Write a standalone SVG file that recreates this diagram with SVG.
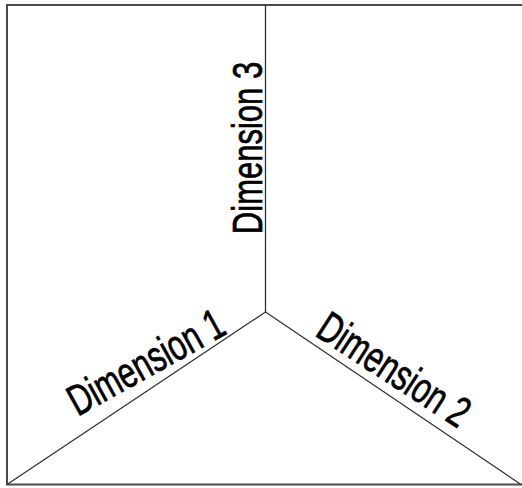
<svg xmlns="http://www.w3.org/2000/svg" width="522" height="488" viewBox="0 0 522 488">
  <style>
    .frame { fill: none; stroke: #4a4a4a; stroke-width: 2; }
    .axis { fill: none; stroke: #333; stroke-width: 1.3; }
    .label { font-family: "Liberation Sans", Arial, sans-serif; font-size: 31px; fill: #000; stroke: #000; stroke-width: 0.5; text-anchor: middle; }
  </style>
  <rect width="522" height="488" fill="#fff"/>
  <path class="frame" d="M523,5 H7 V484.5 H523"/>
  <g id="axes">
    <line class="axis" x1="265.5" y1="5" x2="265.5" y2="312"/>
    <line class="axis" x1="265.5" y1="312" x2="7" y2="484.5"/>
    <line class="axis" x1="265.5" y1="312" x2="521" y2="484.5"/>
  </g>
  <g id="dimension-1">
    <text class="label" transform="translate(153,375) rotate(-29) scale(1,1.4)">Dimension 1</text>
  </g>
  <g id="dimension-2">
    <text class="label" transform="translate(386,382) rotate(33) scale(1,1.4)">Dimension 2</text>
  </g>
  <g id="dimension-3">
    <text class="label" transform="translate(262,148) rotate(-90) scale(1,1.4)">Dimension 3</text>
  </g>
</svg>
